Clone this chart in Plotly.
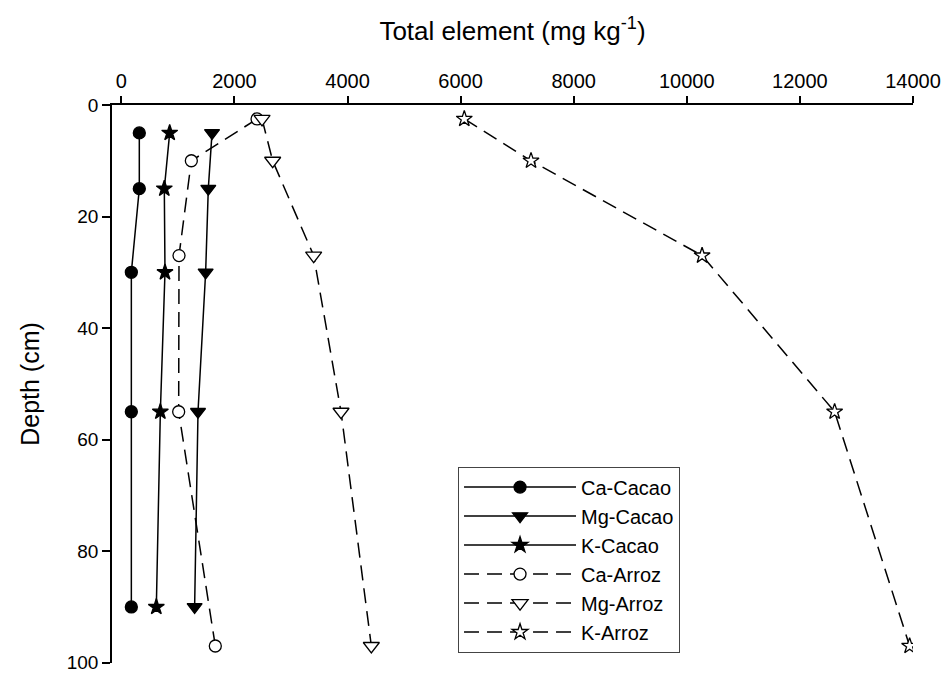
import plotly.graph_objects as go

# Depths (cm)
depth_cacao = [5, 15, 30, 55, 90]
depth_arroz = [2.5, 10, 27, 55, 97]

# Total element (mg kg-1)
ca_cacao = [318, 318, 177, 177, 177]
mg_cacao = [1604, 1538, 1491, 1356, 1296]
k_cacao = [855, 760, 772, 690, 619]
ca_arroz = [2400, 1238, 1020, 1014, 1662]
mg_arroz = [2488, 2676, 3401, 3885, 4421]
k_arroz = [6065, 7245, 10270, 12614, 13940]

x_ticks = [0, 2000, 4000, 6000, 8000, 10000, 12000, 14000]
y_ticks = [0, 20, 40, 60, 80, 100]

FONT = "Liberation Sans, Arial, sans-serif"
fig = go.Figure()

def add(name, xs, ys, symbol, size, filled, dash):
    fig.add_trace(go.Scatter(
        x=xs, y=ys, name=name, mode="lines+markers",
        line=dict(color="black", width=1.5, dash=dash),
        marker=dict(symbol=symbol, size=size,
                    color="black" if filled else "white",
                    line=dict(color="black", width=1.3)),
    ))

add("Ca-Cacao", ca_cacao, depth_cacao, "circle", 12, True, "solid")
add("Mg-Cacao", mg_cacao, depth_cacao, "triangle-down", 13, True, "solid")
add("K-Cacao", k_cacao, depth_cacao, "star", 12, True, "solid")
add("Ca-Arroz", ca_arroz, depth_arroz, "circle", 12, False, "15px,8px")
add("Mg-Arroz", mg_arroz, depth_arroz, "triangle-down", 14, False, "15px,8px")
add("K-Arroz", k_arroz, depth_arroz, "star", 12, False, "15px,8px")

fig.update_layout(
    width=948, height=674,
    margin=dict(l=112, r=35, t=105, b=11),
    paper_bgcolor="white", plot_bgcolor="white",
    font=dict(family=FONT, color="black"),
    showlegend=True,
    legend=dict(
        x=0.432, y=0.352, xanchor="left", yanchor="top",
        bordercolor="#444", borderwidth=1, bgcolor="white",
        font=dict(size=20, family=FONT),
        itemwidth=112,
    ),
    xaxis=dict(
        side="top", range=[-165, 14000], tickvals=x_ticks,
        ticktext=[str(v) for v in x_ticks],
        showline=True, linecolor="black", linewidth=1.5,
        ticks="outside", ticklen=7, tickwidth=1.5, tickcolor="black",
        showgrid=False, zeroline=False, automargin=False,
        tickfont=dict(size=20),
        title=dict(text="Total element (mg kg<sup>-1</sup>)", font=dict(size=26), standoff=22),
    ),
    yaxis=dict(
        range=[100.05, 0], tickvals=y_ticks,
        ticktext=[str(v) for v in y_ticks],
        showline=True, linecolor="black", linewidth=1.5,
        ticks="outside", ticklen=8, tickwidth=1.5, tickcolor="black",
        showgrid=False, zeroline=False, automargin=False,
        tickfont=dict(size=19),
        ticklabeloverflow="allow",
        title=dict(text="Depth (cm)", font=dict(size=25), standoff=20),
    ),
)

fig.write_html("out.html")
